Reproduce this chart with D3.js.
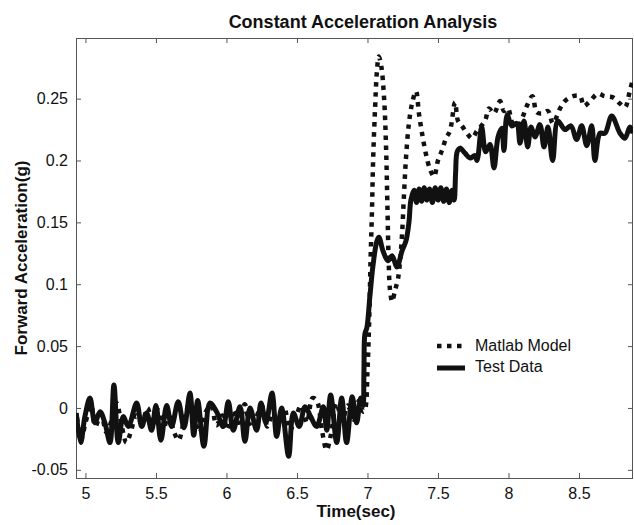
<!DOCTYPE html>
<html>
<head>
<meta charset="utf-8">
<script src="https://cdn.jsdelivr.net/npm/d3@7"></script>
<style>
  html, body { margin: 0; padding: 0; background: #fff; }
  svg { display: block; font-family: Arial, "Liberation Sans", Helvetica, sans-serif; }
</style>
</head>
<body>
<svg id="chart" width="634" height="525"></svg>
<script>
// ---------------- DATA ----------------
const title = "Constant Acceleration Analysis";
const xLabel = "Time(sec)";
const yLabel = "Forward Acceleration(g)";
const seriesNames = ["Matlab Model", "Test Data"];

const xTicks = [5, 5.5, 6, 6.5, 7, 7.5, 8, 8.5];
const xTickLabels = ["5", "5.5", "6", "6.5", "7", "7.5", "8", "8.5"];
const yTicks = [-0.05, 0, 0.05, 0.1, 0.15, 0.2, 0.25];
const yTickLabels = ["-0.05", "0", "0.05", "0.1", "0.15", "0.2", "0.25"];

// Test Data (solid)
const testTime = [
  4.935, 4.966, 4.996, 5.032, 5.067, 5.103, 5.138, 5.174, 5.202, 5.233,
  5.268, 5.304, 5.363, 5.399, 5.434, 5.469, 5.500, 5.535, 5.576, 5.611,
  5.658, 5.699, 5.741, 5.768, 5.796, 5.840, 5.883, 5.930, 5.977, 6.013,
  6.048, 6.096, 6.131, 6.167, 6.214, 6.245, 6.280, 6.323, 6.356, 6.391,
  6.441, 6.474, 6.516, 6.557, 6.597, 6.640, 6.687, 6.711, 6.739, 6.782,
  6.817, 6.852, 6.892, 6.923, 6.952, 6.968, 6.975, 6.982, 6.996, 7.017,
  7.039, 7.067, 7.081, 7.110, 7.145, 7.174, 7.209, 7.245, 7.273, 7.294,
  7.308, 7.330, 7.348, 7.366, 7.384, 7.402, 7.420, 7.440, 7.460, 7.480,
  7.500, 7.520, 7.540, 7.560, 7.580, 7.600, 7.615, 7.625, 7.636, 7.656,
  7.691, 7.727, 7.762, 7.777, 7.810, 7.838, 7.869, 7.897, 7.926, 7.952,
  7.968, 7.991, 8.023, 8.058, 8.082, 8.110, 8.136, 8.160, 8.188, 8.223,
  8.252, 8.280, 8.313, 8.350, 8.400, 8.443, 8.483, 8.519, 8.555, 8.590,
  8.613, 8.649, 8.684, 8.732, 8.791, 8.826, 8.861, 8.883
];
const testAccel = [
  -0.004, -0.028, -0.007, 0.008, -0.012, -0.003, -0.012, -0.028, 0.0186, -0.028,
  -0.007, -0.015, 0.004, -0.015, -0.004, -0.018, 0.002, -0.026, 0.002, -0.015,
  0.005, -0.016, 0.012, -0.022, 0.006, -0.031, 0.004, -0.003, -0.015, 0.005,
  -0.018, 0.001, -0.027, 0.000, -0.018, 0.004, -0.012, 0.012, -0.023, 0.000,
  -0.039, -0.004, -0.015, 0.001, -0.007, -0.015, 0.001, -0.018, 0.0105, -0.028,
  0.008, -0.028, 0.009, -0.012, 0.008, 0.002, 0.030, 0.060, 0.065, 0.090,
  0.115, 0.135, 0.138, 0.127, 0.119, 0.123, 0.114, 0.127, 0.135, 0.150,
  0.168, 0.176, 0.166, 0.177, 0.167, 0.178, 0.168, 0.177, 0.166, 0.178,
  0.168, 0.178, 0.167, 0.177, 0.166, 0.176, 0.168, 0.190, 0.207, 0.210,
  0.206, 0.202, 0.204, 0.200, 0.227, 0.207, 0.213, 0.194, 0.219, 0.226,
  0.208, 0.237, 0.228, 0.230, 0.214, 0.232, 0.211, 0.227, 0.219, 0.229,
  0.211, 0.227, 0.200, 0.232, 0.225, 0.228, 0.217, 0.228, 0.212, 0.228,
  0.200, 0.222, 0.222, 0.236, 0.222, 0.218, 0.227, 0.222
];

// Matlab Model (dotted)
const modelTime = [
  4.940, 4.970, 5.000, 5.040, 5.070, 5.110, 5.150, 5.190, 5.220, 5.260,
  5.290, 5.320, 5.360, 5.400, 5.440, 5.480, 5.520, 5.550, 5.590, 5.630,
  5.660, 5.700, 5.740, 5.780, 5.810, 5.850, 5.890, 5.930, 5.970, 6.010,
  6.050, 6.090, 6.130, 6.170, 6.210, 6.250, 6.290, 6.330, 6.370, 6.410,
  6.450, 6.490, 6.530, 6.570, 6.610, 6.640, 6.680, 6.710, 6.740, 6.780,
  6.820, 6.860, 6.900, 6.940, 6.970, 6.985, 7.000, 7.012, 7.022, 7.032,
  7.040, 7.053, 7.067, 7.080, 7.098, 7.118, 7.132, 7.142, 7.150, 7.160,
  7.175, 7.195, 7.216, 7.232, 7.245, 7.258, 7.272, 7.292, 7.316, 7.344,
  7.365, 7.387, 7.415, 7.443, 7.472, 7.500, 7.528, 7.557, 7.585, 7.621,
  7.642, 7.670, 7.706, 7.741, 7.777, 7.833, 7.862, 7.897, 7.940, 7.968,
  7.996, 8.030, 8.067, 8.100, 8.130, 8.170, 8.200, 8.240, 8.280, 8.315,
  8.365, 8.400, 8.457, 8.507, 8.535, 8.570, 8.635, 8.680, 8.741, 8.790,
  8.826, 8.860, 8.883
];
const modelAccel = [
  -0.008, -0.025, -0.012, 0.002, -0.015, -0.005, -0.020, -0.008, 0.004, -0.016,
  -0.028, -0.020, -0.006, -0.012, 0.000, -0.014, -0.002, -0.018, -0.006, -0.020,
  -0.026, -0.010, 0.004, -0.012, -0.020, -0.004, 0.002, -0.014, -0.006, -0.018,
  -0.002, -0.012, 0.003, -0.016, -0.008, 0.002, -0.015, -0.004, -0.012, 0.000,
  -0.018, -0.008, 0.002, -0.012, 0.008, 0.006, -0.020, -0.034, -0.022, 0.004,
  -0.010, 0.002, -0.012, 0.006, -0.003, 0.000, 0.030, 0.070, 0.120, 0.160,
  0.200, 0.240, 0.272, 0.284, 0.276, 0.250, 0.210, 0.160, 0.120, 0.095,
  0.086, 0.095, 0.104, 0.120, 0.140, 0.170, 0.200, 0.228, 0.246, 0.256,
  0.238, 0.222, 0.205, 0.193, 0.187, 0.200, 0.208, 0.218, 0.224, 0.247,
  0.232, 0.228, 0.222, 0.218, 0.224, 0.232, 0.242, 0.238, 0.248, 0.240,
  0.242, 0.230, 0.228, 0.235, 0.244, 0.252, 0.239, 0.238, 0.240, 0.230,
  0.242, 0.248, 0.252, 0.252, 0.244, 0.247, 0.254, 0.252, 0.251, 0.246,
  0.243, 0.256, 0.266
];

// ---------------- CHART ----------------
const svg = d3.select("#chart");
const mLeft = 76, mRight = 633, mTop = 38, mBottom = 478;

const x = d3.scaleLinear().domain([4.933, 8.883]).range([mLeft, mRight]);
const y = d3.scaleLinear().domain([-0.0566, 0.299]).range([mBottom, mTop]);

const ink = "#111";
const frameColor = "#555";

svg.append("defs").append("clipPath").attr("id", "plotclip")
  .append("rect").attr("x", mLeft).attr("y", mTop)
  .attr("width", mRight - mLeft).attr("height", mBottom - mTop);

// Axes (inward ticks, like MATLAB)
const xFmt = d => xTickLabels[xTicks.indexOf(d)];
const yFmt = d => yTickLabels[yTicks.indexOf(d)];

const gx = svg.append("g").attr("transform", `translate(0,${mBottom})`)
  .call(d3.axisBottom(x).tickValues(xTicks).tickFormat(xFmt)
    .tickSizeInner(-5).tickSizeOuter(0).tickPadding(10));
const gxTop = svg.append("g").attr("transform", `translate(0,${mTop})`)
  .call(d3.axisTop(x).tickValues(xTicks).tickFormat("")
    .tickSizeInner(-5).tickSizeOuter(0));
const gy = svg.append("g").attr("transform", `translate(${mLeft},0)`)
  .call(d3.axisLeft(y).tickValues(yTicks).tickFormat(yFmt)
    .tickSizeInner(-5).tickSizeOuter(0).tickPadding(8));
const gyRight = svg.append("g").attr("transform", `translate(${mRight},0)`)
  .call(d3.axisRight(y).tickValues(yTicks).tickFormat("")
    .tickSizeInner(-5).tickSizeOuter(0));

[gx, gxTop, gy, gyRight].forEach(g => {
  g.select(".domain").remove();
  g.selectAll(".tick line").attr("stroke", frameColor).attr("stroke-width", 1);
  g.selectAll(".tick text").attr("fill", ink).style("font-size", "16px")
    .style("font-family", "Arial, 'Liberation Sans', Helvetica, sans-serif");
});

// Frame
svg.append("rect")
  .attr("x", mLeft + 0.5).attr("y", mTop + 0.5)
  .attr("width", mRight - mLeft - 1).attr("height", mBottom - mTop)
  .attr("fill", "none").attr("stroke", frameColor).attr("stroke-width", 1);

// Lines
const line = d3.line()
  .x(d => x(d[0])).y(d => y(d[1]))
  .curve(d3.curveCatmullRom.alpha(0.5));

const modelData = modelTime.map((t, i) => [t, modelAccel[i]]);
const testData = testTime.map((t, i) => [t, testAccel[i]]);

const plot = svg.append("g").attr("clip-path", "url(#plotclip)");
plot.append("path").datum(modelData)
  .attr("d", line).attr("fill", "none").attr("stroke", ink)
  .attr("stroke-width", 4.5).attr("stroke-dasharray", "4.5,5.5");
plot.append("path").datum(testData)
  .attr("d", line).attr("fill", "none").attr("stroke", ink)
  .attr("stroke-width", 5).attr("stroke-linejoin", "round");

// Legend
const legend = svg.append("g");
const legendRows = [
  { name: seriesNames[0], dash: "4.5,5.5", w: 4.5, ly: 346, ty: 351 },
  { name: seriesNames[1], dash: null, w: 5, ly: 368, ty: 372 }
];
legendRows.forEach(r => {
  legend.append("line").attr("x1", 437).attr("x2", 465)
    .attr("y1", r.ly).attr("y2", r.ly)
    .attr("stroke", ink).attr("stroke-width", r.w)
    .attr("stroke-dasharray", r.dash);
  legend.append("text").attr("x", 475).attr("y", r.ty)
    .attr("fill", ink).style("font-size", "16px").text(r.name);
});

// Titles
svg.append("text").attr("x", 363).attr("y", 28)
  .attr("text-anchor", "middle").attr("fill", ink)
  .style("font-size", "18px").style("font-weight", "bold").text(title);
svg.append("text").attr("x", 356).attr("y", 517)
  .attr("text-anchor", "middle").attr("fill", ink)
  .style("font-size", "17px").style("font-weight", "bold").text(xLabel);
svg.append("text")
  .attr("transform", "translate(26.5,258) rotate(-90)")
  .attr("text-anchor", "middle").attr("fill", ink)
  .style("font-size", "17px").style("font-weight", "bold").text(yLabel);
</script>
</body>
</html>
